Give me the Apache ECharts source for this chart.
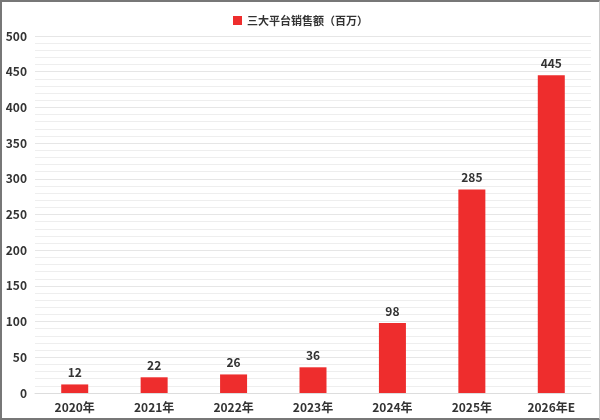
<!DOCTYPE html>
<html><head><meta charset="utf-8">
<script src="https://cdn.jsdelivr.net/npm/echarts@6/dist/echarts.min.js"></script>
<style>
html,body{margin:0;padding:0;background:#fff;}
#wrap{position:absolute;left:0;top:0;width:597px;height:416px;border-top:2px solid #777;border-left:2px solid #777;border-bottom:2px solid #777;border-right:1px solid #ccc;}
#c{width:597px;height:416px;}
</style></head>
<body><div id="wrap"><div id="c"></div></div>
<script>
var categories = ['2020年','2021年','2022年','2023年','2024年','2025年','2026年E'];
var sales = [12, 22, 26, 36, 98, 285, 445];
var seriesName = '三大平台销售额（百万）';
var yTicks = {min:0, max:500, interval:50};

var chart = echarts.init(document.getElementById('c'));
chart.setOption({
  animation:false,
  textStyle:{fontFamily:'"Noto Sans CJK SC","Noto Sans",sans-serif'},
  legend:{top:8, left:'center', itemWidth:9, itemHeight:9, icon:'rect',
    textStyle:{fontSize:11, fontWeight:'bold', color:'#333'}},
  grid:{left:33, right:8, top:34, bottom:25},
  xAxis:{type:'category', data:categories,
    axisLine:{lineStyle:{color:'#ddd'}}, axisTick:{show:false},
    axisLabel:{color:'#333', fontSize:12, fontWeight:'bold', margin:8}},
  yAxis:{type:'value', min:yTicks.min, max:yTicks.max, interval:yTicks.interval,
    axisLine:{show:false}, axisTick:{show:false},
    axisLabel:{color:'#333', fontSize:12, fontWeight:'bold', margin:8},
    splitLine:{lineStyle:{color:'#e6e6e6'}},
    minorTick:{show:false, splitNumber:5},
    minorSplitLine:{show:true, lineStyle:{color:'#eeeeee'}}},
  series:[{name:seriesName, type:'bar', data:sales, barWidth:27,
    itemStyle:{color:'#EE2D2D'},
    label:{show:true, position:'top', distance:6, color:'#333', fontSize:12, fontWeight:'bold'}}]
});
</script></body></html>
